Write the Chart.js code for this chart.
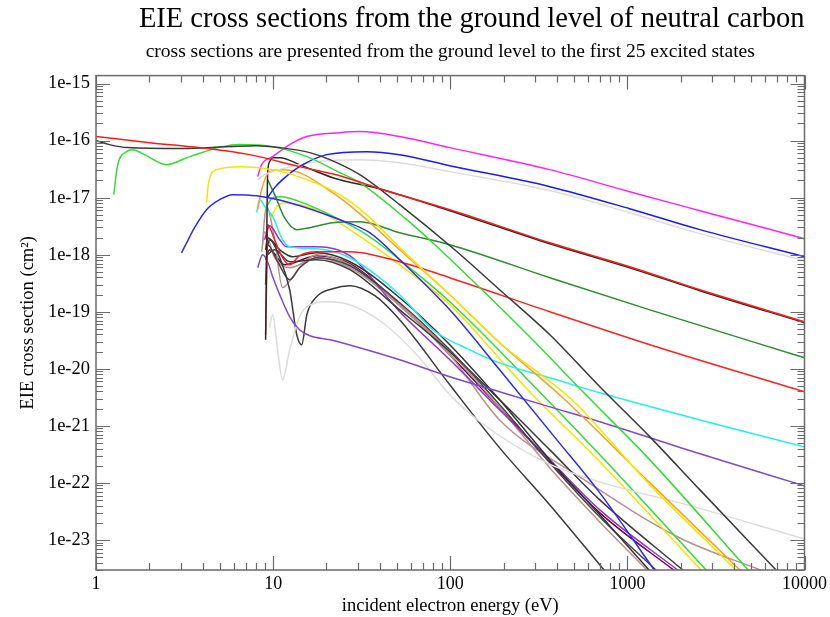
<!DOCTYPE html>
<html>
<head>
<meta charset="utf-8">
<script src="https://cdn.jsdelivr.net/npm/chart.js@4.4.1/dist/chart.umd.min.js"></script>
<style>
  html, body { margin: 0; padding: 0; background: #fff; }
  #wrap { width: 830px; height: 617px; }
</style>
</head>
<body>
<div id="wrap"><canvas id="c" width="830" height="617"></canvas></div>
<script>
// ---- tick values / labels ----
const xTicks = [1, 10, 100, 1000, 10000];
const xTickLabels = ['1', '10', '100', '1000', '10000'];
const yTicks = [1e-23, 1e-22, 1e-21, 1e-20, 1e-19, 1e-18, 1e-17, 1e-16, 1e-15];
const yTickLabels = ['1e-23', '1e-22', '1e-21', '1e-20', '1e-19', '1e-18', '1e-17', '1e-16', '1e-15'];

// ---- series (incident energy in eV, cross section in cm^2) ----
const e01 = [1, 2.01, 3.84, 7.37, 14.1, 23.8, 41.6, 99.4, 365, 1030, 2568, 10000];
const s01 = [1.18e-16, 9.22e-17, 7.54e-17, 5.68e-17, 3.50e-17, 2.43e-17, 1.38e-17, 6.16e-18, 1.62e-18, 6.16e-19, 2.43e-19, 6.68e-20];

const e02 = [1, 1.19, 1.51, 3.00, 5.68, 8.07, 10.9, 16.1, 20.9, 30.8, 51.8, 106, 190, 365, 699, 1340, 2568, 6990];
const s02 = [1.0e-16, 8.51e-17, 7.54e-17, 7.24e-17, 7.85e-17, 8.17e-17, 7.54e-17, 6.16e-17, 4.64e-17, 2.53e-17, 7.54e-18, 1.22e-18, 2.43e-19, 3.95e-20, 4.83e-21, 6.41e-22, 7.54e-23, 2.86e-24];

const e03 = [1.26, 1.32, 1.49, 1.61, 1.88, 2.50, 3.38, 5.18, 6.47, 9.94, 15.5, 23.8, 30.8, 56.8, 79.6, 147, 281, 561, 1340, 4858];
const s03 = [1.13e-17, 3.50e-17, 6.41e-17, 6.95e-17, 5.68e-17, 3.79e-17, 5.24e-17, 7.85e-17, 8.51e-17, 7.85e-17, 5.24e-17, 2.75e-17, 1.83e-17, 4.11e-18, 1.62e-18, 2.64e-19, 3.64e-20, 3.95e-21, 2.53e-22, 2.86e-24];

const e04 = [3.04, 3.25, 3.60, 4.21, 4.99, 5.90, 8.07, 12.4, 23.8, 35.1, 51.8, 99.4, 190, 400, 699, 1430];
const s04 = [1.08e-18, 1.62e-18, 2.98e-18, 6.16e-18, 9.22e-18, 1.13e-17, 1.08e-17, 8.17e-18, 4.11e-18, 2.43e-18, 8.17e-19, 1.08e-19, 9.61e-21, 5.68e-22, 6.68e-23, 2.86e-24];

const e05 = [4.21, 4.32, 4.80, 6.47, 9.94, 15.5, 23.8, 33.7, 51.8, 99.4, 190, 486, 1340, 4156];
const s05 = [8.17e-18, 1.83e-17, 3.10e-17, 3.50e-17, 3.10e-17, 2.07e-17, 1.13e-17, 5.03e-18, 1.33e-18, 1.99e-19, 2.86e-20, 2.86e-21, 9.22e-23, 2.86e-24];

const e06 = [8.18, 8.61, 9.94, 12.4, 15.5, 23.8, 30.8, 51.8, 99.4, 365, 1030, 2568, 10000];
const s06 = [2.34e-17, 3.79e-17, 5.24e-17, 8.51e-17, 1.18e-16, 1.38e-16, 1.44e-16, 1.18e-16, 7.54e-17, 3.10e-17, 1.27e-17, 5.91e-18, 1.91e-18];

const e07 = [9.31, 10.2, 11.3, 14.1, 20.1, 33.7, 51.8, 99.4, 365, 1030, 2568, 10000];
const s07 = [1.0e-17, 1.50e-17, 2.07e-17, 3.50e-17, 5.68e-17, 6.41e-17, 5.68e-17, 3.64e-17, 1.56e-17, 6.41e-18, 2.75e-18, 9.22e-19];

const e08 = [8.18, 8.95, 11.3, 17.6, 30.8, 51.8, 99.4, 365, 1030, 2568, 10000];
const s08 = [2.07e-17, 2.53e-17, 3.23e-17, 4.28e-17, 4.64e-17, 4.11e-17, 2.86e-17, 1.33e-17, 5.46e-18, 2.34e-18, 7.85e-19];

const e09 = [8.18, 8.61, 9.55, 11.3, 14.1, 21.7, 30.8, 51.8, 99.4, 190, 432, 1340, 4378];
const s09 = [6.16e-18, 1.38e-17, 2.86e-17, 3.10e-17, 2.75e-17, 1.22e-17, 5.24e-18, 1.22e-18, 1.99e-19, 2.86e-20, 3.10e-21, 1.0e-22, 2.86e-24];

const e10 = [9.07, 9.19, 9.31, 9.55, 9.94, 10.9, 14.1, 21.7, 41.6, 99.4, 365, 1030, 2568, 10000];
const s10 = [3.23e-20, 1.22e-18, 2.53e-17, 4.28e-17, 5.03e-17, 5.03e-17, 3.79e-17, 2.24e-17, 1.38e-17, 5.91e-18, 1.56e-18, 5.91e-19, 2.34e-19, 6.41e-20];

const e11 = [9.31, 10.2, 11.6, 13.6, 16.1, 21.7, 30.8, 51.8, 99.4, 365, 1340, 10000];
const s11 = [2.07e-17, 1.13e-17, 4.46e-18, 2.75e-18, 2.98e-18, 3.64e-18, 3.79e-18, 2.43e-18, 1.50e-18, 3.95e-19, 1.08e-19, 1.56e-20];

const e12 = [9.07, 9.19, 9.31, 10.2, 11.3, 12.4, 14.1, 17.6, 27.1, 51.8, 99.4, 365, 1340, 10000];
const s12 = [3.95e-20, 3.64e-19, 3.36e-18, 1.83e-18, 8.86e-19, 6.68e-19, 9.61e-19, 1.13e-18, 1.13e-18, 7.54e-19, 3.95e-19, 1.0e-19, 2.64e-20, 3.95e-21];

const e13 = [8.07, 8.39, 9.07, 9.94, 11.3, 12.4, 17.6, 27.1, 51.8, 79.6, 129, 190, 365, 699, 2568, 10000];
const s13 = [5.46e-18, 9.22e-18, 6.68e-18, 4.64e-18, 1.83e-18, 1.38e-18, 1.27e-18, 8.86e-19, 1.99e-19, 4.83e-20, 2.15e-20, 1.27e-20, 6.95e-21, 3.79e-21, 1.27e-21, 4.28e-22];

const e14 = [8.18, 8.72, 9.31, 9.94, 10.9, 12.4, 14.1, 16.1, 20.9, 30.8, 51.8, 99.4, 190, 365, 699, 2568, 10000];
const s14 = [5.91e-19, 1.0e-18, 7.54e-19, 4.11e-19, 1.99e-19, 8.17e-20, 4.83e-20, 3.79e-20, 3.23e-20, 2.34e-20, 1.44e-20, 7.24e-21, 3.95e-21, 2.15e-21, 1.18e-21, 3.23e-22, 8.86e-23];

const e15 = [9.55, 9.94, 10.6, 11.3, 12.4, 14.1, 17.6, 20.1, 27.1, 41.6, 64.7, 99.4, 147, 351, 796, 1980, 10000];
const s15 = [5.24e-20, 8.86e-20, 2.15e-20, 6.41e-21, 2.15e-20, 8.17e-20, 1.44e-19, 1.50e-19, 1.33e-19, 6.41e-20, 1.76e-20, 3.50e-21, 1.18e-21, 2.24e-22, 9.22e-23, 4.46e-23, 1.04e-23];

const e16 = [9.19, 9.55, 10.9, 12.4, 13.6, 14.5, 15.5, 17.6, 21.7, 27.1, 37.5, 51.8, 99.4, 190, 365, 746];
const s16 = [1.22e-18, 1.83e-18, 8.86e-19, 2.43e-19, 3.95e-20, 2.64e-20, 8.86e-20, 1.83e-19, 2.53e-19, 2.86e-19, 1.91e-19, 7.24e-20, 5.24e-21, 4.11e-22, 4.11e-23, 2.86e-24];

const e17 = [9.19, 9.94, 11.2, 14.1, 20.9, 33.7, 51.8, 99.4, 292, 699, 2813];
const s17 = [6.95e-18, 1.0e-17, 1.04e-17, 8.51e-18, 5.03e-18, 2.24e-18, 8.17e-19, 1.50e-19, 5.24e-21, 3.10e-22, 2.86e-24];

const e18 = [9.68, 10.6, 11.6, 14.1, 17.6, 27.1, 51.8, 99.4, 274, 699, 2636];
const s18 = [4.46e-18, 7.24e-18, 8.17e-18, 7.54e-18, 6.16e-18, 2.75e-18, 6.68e-19, 1.33e-19, 4.28e-21, 2.34e-22, 2.86e-24];

const e19 = [9.07, 9.31, 10.9, 12.9, 17.6, 27.1, 51.8, 99.4, 190, 365, 699, 1340];
const s19 = [1.22e-18, 1.99e-18, 1.22e-18, 9.22e-19, 1.08e-18, 7.54e-19, 1.76e-19, 2.64e-20, 2.86e-21, 2.53e-22, 2.75e-23, 2.86e-24];

const e20 = [9.07, 9.31, 10.6, 12.4, 14.1, 17.6, 27.1, 51.8, 99.4, 190, 365, 699, 1468];
const s20 = [2.98e-19, 1.50e-18, 7.54e-19, 3.64e-19, 5.91e-19, 8.86e-19, 6.41e-19, 1.44e-19, 2.15e-20, 2.34e-21, 2.24e-22, 2.53e-23, 2.86e-24];

const e21 = [9.19, 10.2, 12.4, 17.6, 27.1, 51.8, 99.4, 190, 365, 699, 2085];
const s21 = [9.61e-19, 1.22e-18, 7.54e-19, 8.17e-19, 5.46e-19, 1.08e-19, 1.99e-20, 2.86e-21, 3.79e-22, 5.03e-23, 2.86e-24];

const e22 = [8.95, 9.55, 10.9, 11.9, 17.6, 27.1, 51.8, 99.4, 190, 365, 699, 1954];
const s22 = [1.83e-18, 3.23e-18, 1.83e-18, 1.38e-18, 1.38e-18, 9.61e-19, 1.0e-19, 1.44e-20, 1.91e-21, 2.53e-22, 3.36e-23, 2.86e-24];

const e23 = [8.72, 8.95, 9.19, 10.2, 11.3, 12.9, 15.1, 17.6, 27.1, 51.8, 99.4, 190, 365, 699, 1306];
const s23 = [1.50e-18, 4.46e-18, 6.95e-18, 1.83e-18, 2.64e-19, 4.11e-19, 7.54e-19, 1.0e-18, 6.68e-19, 1.33e-19, 1.99e-20, 2.07e-21, 1.83e-22, 2.07e-23, 2.86e-24];

const e24 = [8.61, 8.95, 10.2, 12.4, 17.6, 27.1, 51.8, 99.4, 190, 539, 1980, 5830];
const s24 = [1.13e-18, 2.53e-18, 8.86e-19, 5.91e-19, 8.86e-19, 5.91e-19, 1.27e-19, 1.76e-20, 1.27e-21, 1.27e-22, 1.08e-23, 2.86e-24];

const e25 = [9.07, 9.55, 11.6, 17.6, 27.1, 51.8, 99.4, 190, 365, 699, 1854];
const s25 = [8.17e-19, 1.22e-18, 6.68e-19, 9.61e-19, 6.95e-19, 1.33e-19, 1.76e-20, 2.07e-21, 2.34e-22, 2.98e-23, 2.86e-24];

// ---- styling (kept apart from the data) ----
const series = [
  [e01, s01, '#ff1a1a'], [e02, s02, '#3a3a3a'], [e03, s03, '#33dd33'], [e04, s04, '#2a2aff'],
  [e05, s05, '#f5e400'], [e06, s06, '#ff22ff'], [e07, s07, '#1a1aff'], [e08, s08, '#dcdcdc'],
  [e09, s09, '#ffa020'], [e10, s10, '#2a2a2a'], [e11, s11, '#2e8b2e'], [e12, s12, '#ff2020'],
  [e13, s13, '#22eeee'], [e14, s14, '#7b4bcc'], [e15, s15, '#dcdcdc'], [e16, s16, '#3a3a3a'],
  [e17, s17, '#33dd33'], [e18, s18, '#f5e400'], [e19, s19, '#333333'], [e20, s20, '#444444'],
  [e21, s21, '#3a3a3a'], [e22, s22, '#9932cc'], [e23, s23, '#bc8f8f'], [e24, s24, '#bc8f8f'],
  [e25, s25, '#670748']
];

const datasets = series.map(([e, s, col]) => ({
  data: e.map((v, i) => ({ x: v, y: s[i] })),
  borderColor: col,
  borderWidth: 1.5,
  pointRadius: 0,
  fill: false,
  cubicInterpolationMode: 'monotone'
}));

const serif = 'Liberation Serif';

const framePlugin = {
  id: 'frame',
  afterDatasetsDraw(chart) {
    const { ctx, chartArea: { left, right, top, bottom }, scales: { x, y } } = chart;
    ctx.save();
    ctx.strokeStyle = '#6a6a6a';
    ctx.lineWidth = 1.5;
    ctx.strokeRect(left, top, right - left, bottom - top);
    ctx.lineWidth = 1.2;
    ctx.beginPath();
    for (let p = 0; p <= 4; p++) {
      for (let k = 1; k <= 9; k++) {
        const v = k * Math.pow(10, p);
        if (v > x.max * 1.0001) break;
        const px = Math.round(x.getPixelForValue(v)) + 0.5;
        const len = k === 1 ? 14 : 7;
        ctx.moveTo(px, bottom); ctx.lineTo(px, bottom - len);
        ctx.moveTo(px, top); ctx.lineTo(px, top + len);
      }
    }
    for (let p = -24; p <= -15; p++) {
      for (let k = 1; k <= 9; k++) {
        const v = k * Math.pow(10, p);
        if (v < y.min || v > y.max) continue;
        const py = Math.round(y.getPixelForValue(v)) + 0.5;
        const len = k === 1 ? 14 : 7;
        ctx.moveTo(left, py); ctx.lineTo(left + len, py);
        ctx.moveTo(right, py); ctx.lineTo(right - len, py);
      }
    }
    ctx.stroke();
    ctx.restore();
  }
};

new Chart(document.getElementById('c'), {
  type: 'line',
  data: { datasets },
  options: {
    responsive: false,
    animation: false,
    events: [],
    layout: { padding: { top: 0, right: 25, bottom: 0, left: 0 } },
    plugins: {
      legend: { display: false },
      tooltip: { enabled: false },
      title: {
        display: true,
        text: 'EIE cross sections from the ground level of neutral carbon',
        font: { family: serif, size: 28.5, weight: 'normal', lineHeight: 1.2 },
        color: '#000',
        align: 'end',
        padding: { top: 2, bottom: 0 },
        fullSize: false
      },
      subtitle: {
        display: true,
        text: 'cross sections are presented from the ground level to the first 25 excited states',
        font: { family: serif, size: 19.5, weight: 'normal', lineHeight: 1.2 },
        color: '#000',
        padding: { top: 4, bottom: 12 },
        fullSize: false
      }
    },
    scales: {
      x: {
        type: 'logarithmic',
        min: 1, max: 10000,
        bounds: 'data',
        grid: { display: false, drawTicks: false },
        border: { display: false },
        ticks: {
          autoSkip: false, maxRotation: 0, minRotation: 0, padding: 3,
          font: { family: serif, size: 18 }, color: '#000',
          callback: (v) => { const i = xTicks.indexOf(v); return i >= 0 ? xTickLabels[i] : ''; }
        },
        title: {
          display: true, text: 'incident electron energy (eV)',
          font: { family: serif, size: 18.5 }, color: '#000',
          padding: { top: 0, bottom: 0 }
        },
        afterBuildTicks: (s) => { s.ticks = xTicks.map(v => ({ value: v })); },
        afterFit: (s) => { s.height = 47; }
      },
      y: {
        type: 'logarithmic',
        min: 2.97e-24, max: 1.38e-15,
        bounds: 'data',
        grid: { display: false, drawTicks: false },
        border: { display: false },
        ticks: {
          autoSkip: false, padding: 6,
          font: { family: serif, size: 18.5 }, color: '#000',
          callback: (v) => { const i = yTicks.indexOf(v); return i >= 0 ? yTickLabels[i] : ''; }
        },
        title: {
          display: true, text: 'EIE cross section (cm²)',
          font: { family: serif, size: 18.5 }, color: '#000',
          padding: { top: 17, bottom: 0 }
        },
        afterBuildTicks: (s) => { s.ticks = yTicks.map(v => ({ value: v })); },
        afterFit: (s) => { s.width = 96; }
      }
    }
  },
  plugins: [framePlugin]
});
</script>
</body>
</html>
